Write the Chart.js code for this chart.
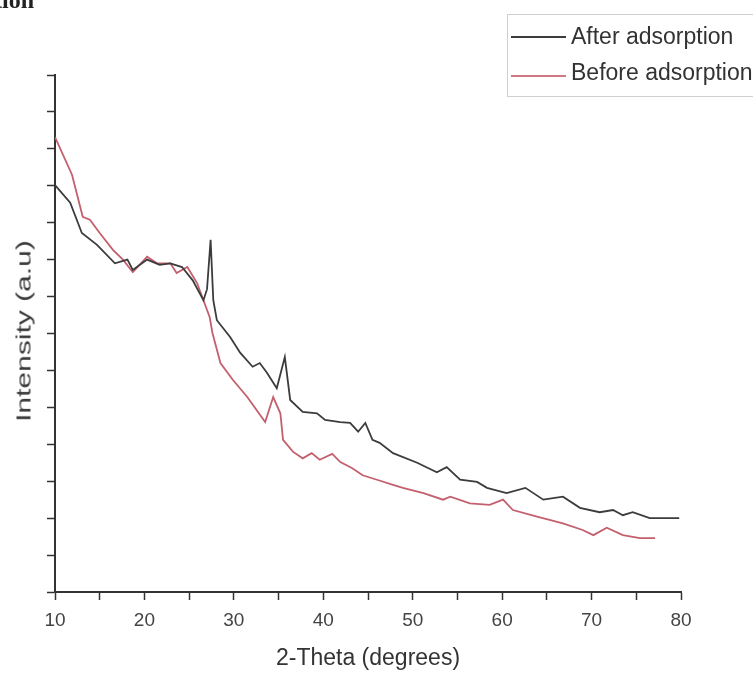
<!DOCTYPE html>
<html>
<head>
<meta charset="utf-8">
<title>XRD pattern</title>
<script src="https://cdn.jsdelivr.net/npm/chart.js@4.4.1/dist/chart.umd.min.js"></script>
<style>
    body { margin: 0; background: #fff; }
    #wrap { position: relative; width: 753px; height: 679px; overflow: hidden; background: #fff; }
    #xrd { position: absolute; left: 0; top: 0; }
    .frag { position: absolute; left: -6px; top: -13px; font: bold 24px "Liberation Serif", "DejaVu Serif", serif; color: #222; }
    .legend { position: absolute; left: 507px; top: 14px; width: 260px; height: 81px; border: 1px solid #cfcfcf; }
    .legend .row { position: absolute; left: 3px; height: 30px; font: 23px "Liberation Sans", Arial, sans-serif; color: #333; white-space: nowrap; }
    .legend .swatch { position: absolute; left: 0; width: 55px; height: 0; border-top: 2px solid; }
    .legend .label { position: absolute; left: 60px; top: 0; line-height: 30px; }
    .ytitle { position: absolute; left: 24px; top: 331px; font: 20px "Liberation Sans", Arial, sans-serif; color: #3a3a3a; white-space: nowrap;
              transform: translate(-50%, -50%) rotate(-90deg) scaleX(1.5); }
    .xtitle { position: absolute; left: 368px; top: 657px; font: 23px "Liberation Sans", Arial, sans-serif; color: #333; white-space: nowrap;
              transform: translate(-50%, -50%); }
</style>
</head>
<body>
<div id="wrap">
    <canvas id="xrd" width="753" height="679"></canvas>
    <div class="frag">tion</div>
    <div class="legend">
        <div class="row" style="top:6px"><span class="swatch" style="top:15px;border-color:#3c3c3c"></span><span class="label">After adsorption</span></div>
        <div class="row" style="top:42px"><span class="swatch" style="top:18px;border-color:#d07884"></span><span class="label">Before adsorption</span></div>
    </div>
    <div class="ytitle">Intensity (a.u)</div>
    <div class="xtitle">2-Theta (degrees)</div>
</div>

<script>
// 2-theta positions and intensities (arbitrary units)
const afterTheta = [10.0, 11.7, 13.0, 14.7, 16.7, 18.1, 18.7, 20.3, 21.7, 22.9, 24.2, 25.4, 26.6, 27.0, 27.4, 27.7,
    28.1, 29.6, 30.7, 32.1, 32.9, 33.7, 34.8, 35.7, 36.3, 37.7, 39.3, 40.2, 41.9, 43.0, 43.9, 44.7, 45.5, 46.3,
    47.8, 50.5, 52.7, 53.8, 55.3, 57.2, 58.3, 60.5, 62.6, 64.6, 66.8, 68.7, 70.9, 72.4, 73.5, 74.6, 76.5, 79.8];
const afterIntensity = [5.51, 5.27, 4.86, 4.70, 4.45, 4.50, 4.36, 4.50, 4.43, 4.45, 4.40, 4.22, 3.95, 4.10, 4.77, 3.95,
    3.68, 3.45, 3.24, 3.05, 3.10, 2.97, 2.76, 3.18, 2.60, 2.44, 2.42, 2.33, 2.30, 2.29, 2.17, 2.29, 2.06, 2.02,
    1.88, 1.75, 1.62, 1.69, 1.52, 1.49, 1.41, 1.34, 1.41, 1.25, 1.29, 1.14, 1.08, 1.11, 1.04, 1.08, 1.00, 1.00];

const beforeTheta = [10.0, 11.9, 13.1, 13.9, 15.0, 16.5, 17.6, 18.7, 20.3, 21.4, 22.9, 23.6, 24.8, 25.9, 27.3, 27.6,
    28.5, 29.9, 31.5, 33.5, 34.4, 35.2, 35.5, 36.6, 37.7, 38.7, 39.6, 41.0, 41.9, 43.2, 44.4, 46.0, 47.8, 48.9,
    51.2, 53.4, 54.2, 56.4, 58.6, 60.1, 61.2, 63.9, 66.8, 69.0, 70.2, 71.7, 73.5, 75.4, 77.1];
const beforeIntensity = [6.16, 5.65, 5.08, 5.04, 4.86, 4.63, 4.50, 4.33, 4.54, 4.45, 4.45, 4.32, 4.40, 4.18, 3.72, 3.51,
    3.10, 2.87, 2.64, 2.30, 2.64, 2.42, 2.06, 1.90, 1.81, 1.88, 1.79, 1.87, 1.76, 1.68, 1.58, 1.52, 1.45, 1.41,
    1.34, 1.25, 1.29, 1.20, 1.18, 1.25, 1.11, 1.02, 0.93, 0.84, 0.77, 0.87, 0.77, 0.73, 0.73];

const thetaMin = 10;
const thetaMax = 80;
const thetaLabelStep = 10;

const axisColor = '#333333';

/**
 * Pair two arrays into {x, y} points
 */
function toPoints(xs, ys) {
    return xs.map((x, i) => ({ x: x, y: ys[i] }));
}

new Chart(document.getElementById('xrd').getContext('2d'), {
    type: 'line',
    data: {
        datasets: [
            {
                label: 'After adsorption',
                data: toPoints(afterTheta, afterIntensity),
                borderColor: '#3c3c3c',
                borderWidth: 1.8,
                pointRadius: 0,
                tension: 0
            },
            {
                label: 'Before adsorption',
                data: toPoints(beforeTheta, beforeIntensity),
                borderColor: '#c4606e',
                borderWidth: 1.8,
                pointRadius: 0,
                tension: 0
            }
        ]
    },
    options: {
        responsive: false,
        animation: false,
        devicePixelRatio: 1,
        layout: {
            padding: { top: 75, right: 72, left: 0, bottom: 0 }
        },
        plugins: {
            legend: { display: false },
            tooltip: { enabled: false }
        },
        scales: {
            x: {
                type: 'linear',
                min: thetaMin,
                max: thetaMax,
                afterFit: function(scale) { scale.height = 87; },
                border: { color: axisColor, width: 2 },
                grid: { drawOnChartArea: false, tickLength: 8, tickColor: axisColor, tickWidth: 1.5 },
                ticks: {
                    stepSize: 5,
                    autoSkip: false,
                    maxRotation: 0,
                    padding: 9,
                    color: '#444',
                    font: { family: '"Liberation Sans", Arial', size: 19 },
                    callback: function(value) {
                        return value % thetaLabelStep === 0 ? String(value) : '';
                    }
                }
            },
            y: {
                min: 0,
                max: 7,
                afterFit: function(scale) { scale.width = 55; },
                border: { color: axisColor, width: 2 },
                grid: { drawOnChartArea: false, tickLength: 8, tickColor: axisColor, tickWidth: 1.5 },
                ticks: {
                    stepSize: 0.5,
                    autoSkip: false,
                    callback: function() { return ''; }
                }
            }
        }
    }
});
</script>
</body>
</html>
